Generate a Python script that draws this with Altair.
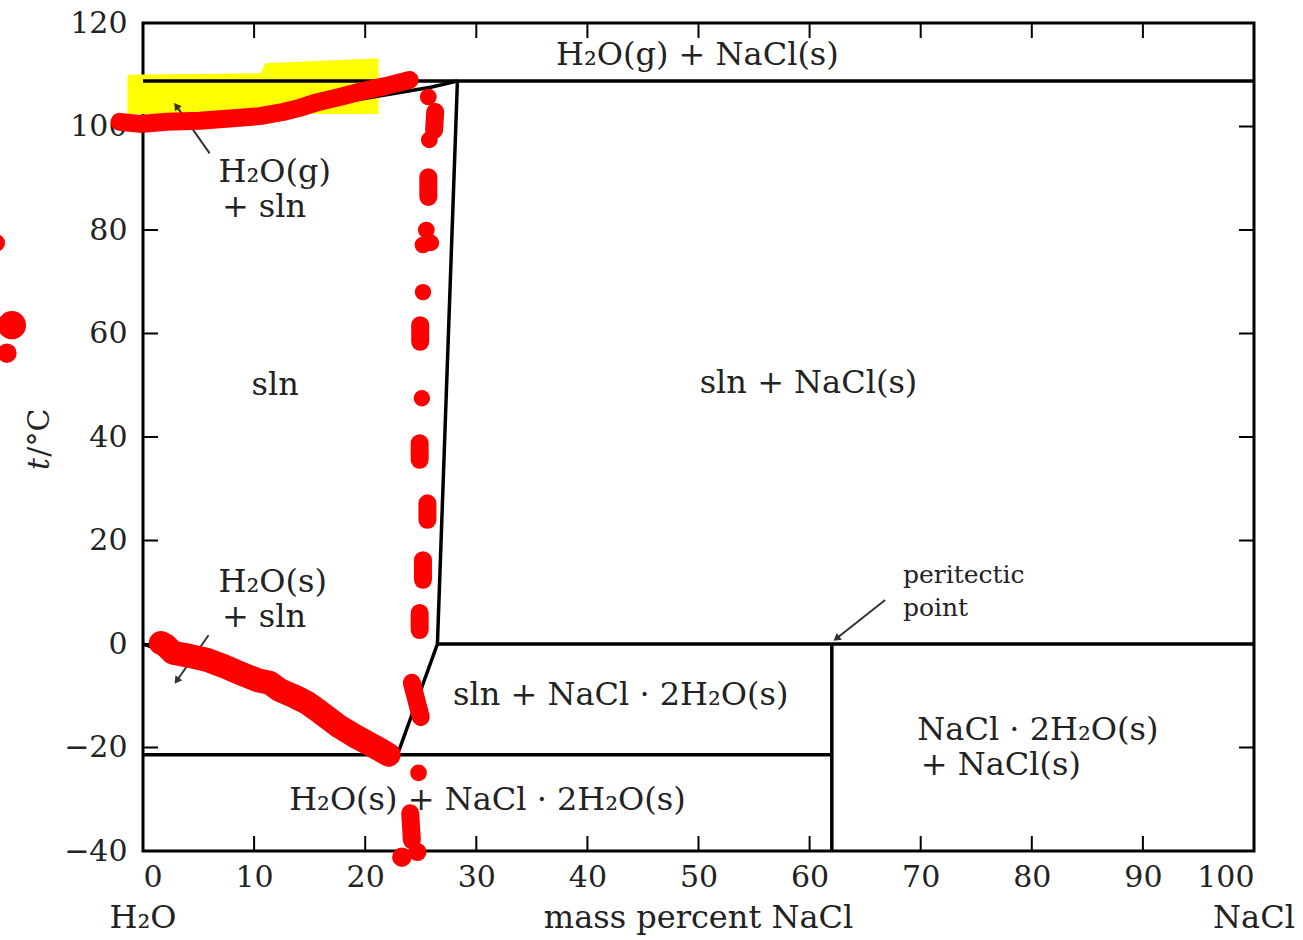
import altair as alt
import pandas as pd

# ---------------- data ----------------
# black phase-boundary segments (mass % NaCl, t / °C)
seg_id = ["top", "top", "boil", "boil", "boil", "boil", "boil", "sol", "sol", "sol",
          "frz", "frz", "frz", "frz", "frz", "eut", "eut", "per", "per", "vert", "vert"]
seg_x = [0, 100, 0, 10, 17.1, 25.9, 28.3, 28.3, 26.5, 22.9,
         0, 2.7, 8.7, 14.8, 22.9, 0, 62.0, 26.5, 100, 62.0, 62.0]
seg_t = [108.8, 108.8, 100, 101.6, 104.4, 107.6, 108.8, 108.8, 0, -21.4,
         0, -1.9, -5.8, -11.4, -21.4, -21.4, -21.4, 0, 0, 0, -40]

# red hand-drawn strokes
boil_x = [-2.1, -0.27, 2.16, 5.13, 8.10, 10.5, 12.6, 14.1, 15.7, 17.7, 19.5, 21.8, 24.0]
boil_t = [100.9, 100.5, 100.9, 101.1, 101.6, 102.0, 102.8, 103.6, 104.7, 105.7, 106.7, 107.8, 109.0]
frz_x = [1.6, 2.0, 2.7, 4.2, 5.8, 7.4, 8.7, 10.3, 11.4, 12.3, 13.7, 14.8, 15.9, 17.7, 19.1, 20.2, 21.4, 22.1]
frz_t = [0.2, -0.2, -1.7, -2.3, -3.1, -4.4, -5.6, -7.0, -7.5, -8.9, -10.2, -11.4, -13.1, -16.0, -17.8, -19.1, -20.5, -21.4]
dash_id = ["a", "a", "b", "b", "c", "c", "d", "d", "e", "e", "f", "f", "g", "g", "h", "h", "i", "i"]
dash_x = [26.3, 26.2, 25.68, 25.68, 24.95, 24.95, 24.9, 24.9, 25.6, 25.6, 25.2, 25.2, 24.9, 24.9, 24.2, 25.0, 24.05, 24.2]
dash_t = [102.8, 99.3, 90.2, 86.4, 61.6, 58.4, 38.8, 35.6, 27.2, 24.0, 16.2, 12.4, 6.0, 2.7, -7.5, -14.1, -32.7, -37.9]
dot_x = [25.68, 25.77, 25.5, 25.2, 25.9, 25.2, 25.1, 24.8, 23.3, 24.7, -13.2, -11.8, -12.25]
dot_t = [105.7, 97.4, 80.0, 77.1, 77.5, 68.0, 47.5, -24.9, -41.2, -40.2, 77.5, 61.6, 56.2]
dot_s = [280, 280, 280, 280, 280, 270, 270, 280, 380, 330, 300, 800, 380]

# yellow highlight
hl_x = [-1.4, 10.6, 11.0, 21.2]
hl_top = [110.0, 110.3, 112.2, 113.2]
hl_bot = [102.4, 102.4, 102.4, 102.4]

# region labels
lab_c_text = ["H\u2082O(g) + NaCl(s)", "sln", "sln + NaCl(s)", "sln + NaCl \u00b7 2H\u2082O(s)",
              "H\u2082O(s) + NaCl \u00b7 2H\u2082O(s)", "H\u2082O", "mass percent NaCl", "NaCl"]
lab_c_x = [49.9, 11.9, 59.9, 43.0, 31.0, 0, 50, 100]
lab_c_t = [113.8, 50.0, 50.4, -9.9, -30.1, -52.9, -52.9, -52.9]
lab_l_text = ["H\u2082O(g)", "+ sln", "H\u2082O(s)", "+ sln",
              "NaCl \u00b7 2H\u2082O(s)", "+ NaCl(s)"]
lab_l_x = [6.8, 7.1, 6.8, 7.1, 69.7, 70.0]
lab_l_t = [91.2, 84.4, 12.0, 5.2, -16.6, -23.4]
lab_s_text = ["peritectic", "point"]
lab_s_x = [68.4, 68.4]
lab_s_t = [13.3, 6.9]

# arrows
arr_id = ["g", "g", "s", "s", "p", "p"]
arr_x = [6.0, 3.06, 5.9, 3.1, 66.8, 62.5]
arr_t = [94.8, 103.8, 1.7, -6.9, 8.5, 1.2]
head_x = [3.06, 3.1, 62.5]
head_t = [103.8, -6.9, 1.2]
head_ang = [324, 215, 233]

x_ticks = list(range(0, 101, 10))
y_ticks = list(range(-40, 121, 20))

# ---------------- chart ----------------
FONT = "DejaVu Serif"
INK = "#222222"
W, H = 1111, 828

xs = alt.Scale(domain=[0, 100], nice=False, zero=False)
ys = alt.Scale(domain=[-40, 120], nice=False, zero=False)
xaxis = alt.Axis(values=x_ticks, ticks=False, domain=False, grid=False, title="",
                 labelFont=FONT, labelFontSize=30, labelColor=INK, labelPadding=11,
                 format="d")
yaxis = alt.Axis(values=y_ticks, ticks=False, domain=False, grid=False, title="",
                 labelFont=FONT, labelFontSize=30, labelColor=INK, labelPadding=16,
                 format="d")
X = alt.X("x:Q", scale=xs, axis=xaxis)
Y = alt.Y("t:Q", scale=ys, axis=yaxis)

hl = alt.Chart(pd.DataFrame({"x": hl_x, "t": hl_top, "t2": hl_bot})).mark_area(
    color="#ffff00", opacity=1).encode(x=X, y=Y, y2="t2:Q")

segs = pd.DataFrame({"seg": seg_id, "x": seg_x, "t": seg_t})
segs["o"] = range(len(segs))
black = alt.Chart(segs).mark_line(color="black", strokeWidth=3.5).encode(
    x=X, y=Y, detail="seg:N", order="o:Q")

xt = pd.DataFrame({"x": x_ticks})
yt = pd.DataFrame({"t": y_ticks})
tick_top = alt.Chart(xt).mark_rule(color="black", strokeWidth=2).encode(
    x=X, y=alt.value(0), y2=alt.value(15))
tick_bot = alt.Chart(xt).mark_rule(color="black", strokeWidth=2).encode(
    x=X, y=alt.value(H - 15), y2=alt.value(H))
tick_left = alt.Chart(yt).mark_rule(color="black", strokeWidth=2).encode(
    y=Y, x=alt.value(0), x2=alt.value(15))
tick_right = alt.Chart(yt).mark_rule(color="black", strokeWidth=2).encode(
    y=Y, x=alt.value(W - 15), x2=alt.value(W))

arr = pd.DataFrame({"a": arr_id, "x": arr_x, "t": arr_t})
arr["o"] = range(len(arr))
arrows = alt.Chart(arr).mark_line(color="#333333", strokeWidth=2).encode(
    x=X, y=Y, detail="a:N", order="o:Q")
heads = alt.Chart(pd.DataFrame({"x": head_x, "t": head_t, "ang": head_ang})).mark_point(
    shape="triangle", filled=True, color="#333333", size=70, opacity=1).encode(
    x=X, y=Y, angle=alt.Angle("ang:Q", scale=None))

labc = alt.Chart(pd.DataFrame({"x": lab_c_x, "t": lab_c_t, "txt": lab_c_text})).mark_text(
    font=FONT, fontSize=32, color=INK, align="center", baseline="middle").encode(
    x=X, y=Y, text="txt:N")
labl = alt.Chart(pd.DataFrame({"x": lab_l_x, "t": lab_l_t, "txt": lab_l_text})).mark_text(
    font=FONT, fontSize=32, color=INK, align="left", baseline="middle").encode(
    x=X, y=Y, text="txt:N")
labs = alt.Chart(pd.DataFrame({"x": lab_s_x, "t": lab_s_t, "txt": lab_s_text})).mark_text(
    font=FONT, fontSize=25, color=INK, align="left", baseline="middle").encode(
    x=X, y=Y, text="txt:N")

ytitle_t = alt.Chart(pd.DataFrame({"x": [-9.3], "t": [33.6], "txt": ["t"]})).mark_text(
    font=FONT, fontSize=30, fontStyle="italic", color=INK, align="left",
    baseline="middle", angle=270).encode(x=X, y=Y, text="txt:N")
ytitle_u = alt.Chart(pd.DataFrame({"x": [-9.3], "t": [36.2], "txt": ["/\u00b0C"]})).mark_text(
    font=FONT, fontSize=30, color=INK, align="left",
    baseline="middle", angle=270).encode(x=X, y=Y, text="txt:N")

red = "#ff0000"
boil = alt.Chart(pd.DataFrame({"x": boil_x, "t": boil_t})).mark_line(
    color=red, strokeWidth=18, strokeCap="round", strokeJoin="round").encode(x=X, y=Y)
frz = alt.Chart(pd.DataFrame({"x": frz_x, "t": frz_t})).mark_line(
    color=red, strokeWidth=24, strokeCap="round", strokeJoin="round").encode(x=X, y=Y)
dd = pd.DataFrame({"d": dash_id, "x": dash_x, "t": dash_t})
dd["o"] = range(len(dd))
dashes = alt.Chart(dd).mark_line(color=red, strokeWidth=18, strokeCap="round").encode(
    x=X, y=Y, detail="d:N", order="o:Q")
dots = alt.Chart(pd.DataFrame({"x": dot_x, "t": dot_t, "s": dot_s})).mark_circle(
    color=red, opacity=1).encode(x=X, y=Y, size=alt.Size("s:Q", scale=None))

chart = alt.layer(
    hl, black, tick_top, tick_bot, tick_left, tick_right, arrows, heads,
    labc, labl, labs, ytitle_t, ytitle_u, boil, frz, dashes, dots
).properties(
    width=W, height=H,
    autosize=alt.AutoSizeParams(type="none"),
    padding={"left": 143, "top": 23, "right": 49, "bottom": 89},
    background="white",
).configure_view(stroke="black", strokeWidth=3)

chart.save("out.html", embed_options={"renderer": "svg", "actions": False})
